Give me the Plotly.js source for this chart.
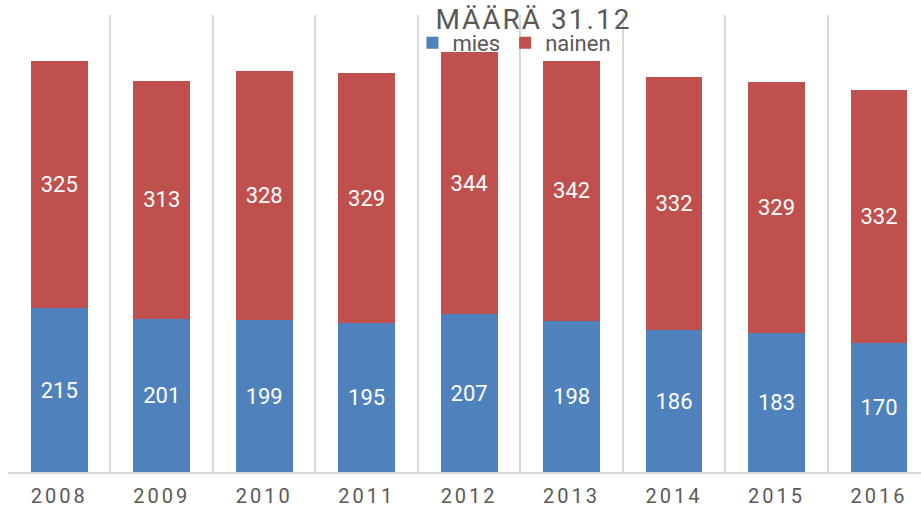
<!DOCTYPE html>
<html>
<head>
<meta charset="utf-8">
<script src="https://cdn.plot.ly/plotly-3.0.1.min.js"></script>
<style>
html,body{margin:0;padding:0;background:#fff;}
#chart{width:921px;height:510px;}
.xtick text{letter-spacing:3px;}
.gtitle{letter-spacing:2px;}
</style>
</head>
<body>
<div id="chart"></div>
<script>
var years = ['2008','2009','2010','2011','2012','2013','2014','2015','2016'];
var mies = [215, 201, 199, 195, 207, 198, 186, 183, 170];
var nainen = [325, 313, 328, 329, 344, 342, 332, 329, 332];

var font = 'Roboto, "Open Sans", sans-serif';

var traces = [
  {type:'bar', name:'mies', x:years, y:mies, marker:{color:'#4F81BD'},
   text:mies.map(String), textposition:'inside', insidetextanchor:'middle',
   textfont:{color:'#ffffff', size:22, family:font}, hoverinfo:'skip'},
  {type:'bar', name:'nainen', x:years, y:nainen, marker:{color:'#C0504D'},
   text:nainen.map(String), textposition:'inside', insidetextanchor:'middle',
   textfont:{color:'#ffffff', size:22, family:font}, hoverinfo:'skip'}
];

var layout = {
  width:921, height:510,
  barmode:'stack', bargap:0.445,
  margin:{l:8, r:0, t:15, b:38},
  paper_bgcolor:'#ffffff', plot_bgcolor:'#ffffff',
  font:{family:font, color:'#595959'},
  title:{text:'MÄÄRÄ 31.12', font:{size:28, color:'#595959', family:font},
         x:530/921, xanchor:'center', xref:'paper', yref:'container', y:1-19/510, yanchor:'middle'},
  showlegend:true,
  legend:{orientation:'h', x:0.443, xanchor:'left', y:0.985, yanchor:'top', yref:'paper',
          font:{size:22, color:'#595959', family:font}, bgcolor:'rgba(0,0,0,0)', traceorder:'normal', itemwidth:30},
  xaxis:{type:'category', range:[-0.5, 8.41], tickson:'boundaries', showgrid:true,
         gridcolor:'#d9d9d9', gridwidth:2, showline:true, linecolor:'#d9d9d9', linewidth:2,
         ticks:'', ticklabelstandoff:5, tickfont:{size:20, color:'#595959', family:font}, fixedrange:true, zeroline:false},
  yaxis:{range:[0,600], visible:false, showgrid:false, zeroline:false, fixedrange:true}
};

Plotly.newPlot('chart', traces, layout, {displayModeBar:false, staticPlot:true});
</script>
</body>
</html>
